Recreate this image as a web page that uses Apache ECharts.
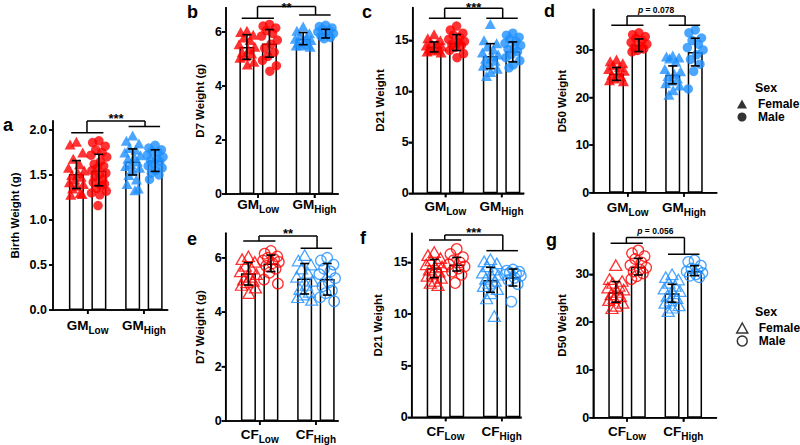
<!DOCTYPE html>
<html><head><meta charset="utf-8">
<script src="https://cdn.jsdelivr.net/npm/echarts@6/dist/echarts.min.js"></script>
<style>html,body{margin:0;padding:0;background:#fff}#c{width:800px;height:445px}</style>
</head><body><div id="c"></div>
<script>
// ================= DATA =================
const topGroup = 'GM';
const bottomGroup = 'CF';
const levels = ['Low', 'High'];
const sexNames = ['Female', 'Male'];
const legendTitle = 'Sex';
const panelLetters = ['a', 'b', 'c', 'd', 'e', 'f', 'g'];
const axisNames = ['Birth Weight (g)', 'D7 Weight (g)', 'D21 Weight', 'D50 Weight', 'D7 Weight (g)', 'D21 Weight', 'D50 Weight'];
const sigLabels = ['***', '**', '***', 'p = 0.078', '**', '***', 'p = 0.056'];

// tick labels
const aTicks = [0, 0.5, 1.0, 1.5, 2.0];
const d7Ticks = [0, 2, 4, 6];
const d21Ticks = [0, 5, 10, 15];
const d50Ticks = [0, 10, 20, 30];

// bar order: [Female Low, Male Low, Female High, Male High]
const aMean = [1.51, 1.55, 1.65, 1.66];
const aLo = [1.35, 1.38, 1.50, 1.54];
const aHi = [1.66, 1.73, 1.79, 1.78];
const aFemLow = [1.87, 1.84, 1.75, 1.68, 1.62, 1.58, 1.55, 1.52, 1.50, 1.48, 1.45, 1.42, 1.40, 1.38, 1.35, 1.30, 1.28, 1.29];
const aMaleLow = [1.88, 1.86, 1.82, 1.78, 1.75, 1.72, 1.70, 1.65, 1.62, 1.60, 1.58, 1.55, 1.52, 1.50, 1.48, 1.45, 1.42, 1.40, 1.38, 1.35, 1.32, 1.30, 1.28, 1.16];
const aFemHigh = [1.94, 1.88, 1.85, 1.80, 1.78, 1.75, 1.72, 1.70, 1.68, 1.65, 1.62, 1.60, 1.58, 1.55, 1.50, 1.45, 1.40, 1.35, 1.33];
const aMaleHigh = [1.83, 1.80, 1.78, 1.76, 1.75, 1.72, 1.70, 1.68, 1.66, 1.65, 1.62, 1.60, 1.58, 1.55, 1.52, 1.50, 1.45];

const bMean = [5.44, 5.57, 5.75, 5.94];
const bLo = [4.99, 5.07, 5.53, 5.78];
const bHi = [5.90, 6.09, 5.98, 6.10];
const bFemLow = [6.05, 6.0, 5.9, 5.8, 5.7, 5.55, 5.45, 5.35, 5.25, 5.2, 5.1, 5.05, 4.9, 4.8];
const bMaleLow = [6.28, 6.22, 6.15, 6.05, 5.95, 5.85, 5.7, 5.55, 5.4, 5.25, 5.1, 4.95, 4.75, 4.55];
const bFemHigh = [6.2, 6.05, 5.95, 5.85, 5.8, 5.75, 5.7, 5.65, 5.6, 5.55, 5.5, 5.5, 5.45];
const bMaleHigh = [6.25, 6.2, 6.15, 6.1, 6.05, 6.0, 5.95, 5.9, 5.85, 5.8, 5.75];

const cMean = [14.35, 14.77, 13.46, 13.92];
const cLo = [13.86, 14.0, 12.22, 12.88];
const cHi = [14.84, 15.56, 14.67, 14.84];
const cFemLow = [15.6, 15.2, 15.0, 14.8, 14.7, 14.5, 14.4, 14.3, 14.2, 14.1, 14.0, 13.9, 13.8];
const cMaleLow = [16.4, 16.0, 15.7, 15.5, 15.3, 15.1, 14.9, 14.8, 14.6, 14.5, 14.3, 14.0, 13.7, 13.3];
const cFemHigh = [16.6, 15.0, 14.7, 14.4, 14.1, 13.8, 13.6, 13.4, 13.2, 13.0, 12.8, 12.5, 12.2, 11.9, 11.5];
const cMaleHigh = [15.7, 15.5, 15.3, 15.1, 14.9, 14.7, 14.5, 14.3, 14.1, 13.9, 13.6, 13.3, 13.0, 12.6, 12.3];

const dMean = [24.97, 31.05, 24.76, 29.58];
const dLo = [23.6, 29.65, 22.87, 26.64];
const dHi = [26.3, 32.3, 26.64, 32.45];
const dFemLow = [28.0, 27.6, 27.2, 26.8, 26.4, 26.0, 25.6, 25.2, 24.8, 24.4, 24.0, 23.6, 23.4];
const dMaleLow = [33.6, 33.2, 32.8, 32.4, 32.0, 31.6, 31.2, 30.8, 30.5, 30.2, 29.9, 29.6];
const dFemHigh = [28.8, 28.6, 28.4, 28.2, 27.5, 26.0, 25.5, 25.0, 24.5, 24.0, 23.5, 23.0, 22.5, 21.5, 20.6];
const dMaleHigh = [34.2, 33.6, 32.5, 32.0, 31.2, 30.5, 30.0, 29.0, 28.0, 27.0, 25.5, 21.8];

const eMean = [5.43, 5.79, 5.24, 5.22];
const eLo = [5.0, 5.49, 4.67, 4.63];
const eHi = [5.82, 6.1, 5.79, 5.79];
const eFemLow = [6.05, 5.95, 5.85, 5.7, 5.6, 5.5, 5.4, 5.3, 5.2, 5.15, 5.1, 5.0, 4.9, 4.7];
const eMaleLow = [6.25, 6.15, 6.05, 6.0, 5.95, 5.9, 5.85, 5.8, 5.7, 5.6, 5.45, 5.2, 5.05];
const eFemHigh = [6.1, 5.9, 5.75, 5.6, 5.45, 5.3, 5.15, 5.0, 4.85, 4.75, 4.65, 4.55, 4.45];
const eMaleHigh = [6.0, 5.9, 5.75, 5.6, 5.5, 5.4, 5.25, 5.1, 4.95, 4.8, 4.7, 4.55, 4.4];

const fMean = [14.42, 14.8, 13.29, 13.55];
const fLo = [13.52, 14.16, 12.1, 12.71];
const fHi = [15.29, 15.48, 14.52, 14.35];
const fFemLow = [16.0, 15.7, 15.4, 15.2, 15.0, 14.8, 14.6, 14.5, 14.3, 14.1, 13.9, 13.7, 13.5, 13.2, 13.0, 12.8];
const fMaleLow = [16.3, 15.8, 15.5, 15.2, 15.0, 14.8, 14.6, 14.4, 14.1, 13.8, 13.0];
const fFemHigh = [15.3, 15.1, 14.9, 14.6, 14.3, 14.0, 13.8, 13.6, 13.4, 13.2, 13.0, 12.7, 12.4, 12.0, 11.5, 9.8];
const fMaleHigh = [14.3, 14.2, 14.1, 14.0, 13.9, 13.8, 13.7, 13.5, 13.3, 12.9, 11.2];

const gMean = [26.25, 31.6, 26.04, 30.69];
const gLo = [24.17, 29.86, 24.17, 29.72];
const gHi = [28.47, 33.33, 27.92, 31.8];
const gFemLow = [31.9, 29.0, 28.6, 28.2, 27.6, 27.2, 26.8, 26.3, 25.8, 25.4, 25.0, 24.6, 24.0, 23.4, 22.9];
const gMaleLow = [35.0, 34.4, 33.8, 33.2, 32.5, 31.9, 31.4, 31.0, 30.6, 30.2, 29.6, 29.0];
const gFemHigh = [30.0, 29.4, 28.9, 28.2, 27.6, 27.0, 26.5, 26.0, 25.5, 25.0, 24.5, 24.0, 23.5, 23.0, 22.3];
const gMaleHigh = [32.9, 32.6, 31.8, 31.2, 30.9, 30.6, 30.3, 30.0, 29.7, 29.4];

// ================= LAYOUT =================
const F = "'Liberation Sans', Arial, Helvetica, sans-serif";
const RED = '#FF0000', BLUE = '#1E90FF';
const PX = 22.5;
const xPos = [0, 1, 2.5, 3.5];
const groupX = [0.5, 3.0];
const J = [0, -0.28, 0.28, -0.14, 0.14, -0.35, 0.35, 0.07, -0.21, 0.21, -0.07, -0.31, 0.31, 0.02, -0.17, 0.17, -0.25, 0.25, 0.1, -0.1, 0.33, -0.33, 0.04, -0.04];

const panels = [
  {mean:aMean, lo:aLo, hi:aHi, pts:[aFemLow,aMaleLow,aFemHigh,aMaleHigh], ticks:aTicks, dec:1, group:topGroup, open:false,
   left:53, zero:310, ppu:90, yMax:2.1, xMin:-1.04, xMax:4.05, gap:32, lm:6, xm:8, br:[1.97,2.1,2.04], L:[3,116]},
  {mean:bMean, lo:bLo, hi:bHi, pts:[bFemLow,bMaleLow,bFemHigh,bMaleHigh], ticks:d7Ticks, dec:0, group:topGroup, open:false,
   left:226, zero:194, ppu:27, yMax:6.9, xMin:-0.93, xMax:4.05, gap:20, lm:4, xm:3, br:[6.51,6.94,6.63], L:[187,3]},
  {mean:cMean, lo:cLo, hi:cHi, pts:[cFemLow,cMaleLow,cFemHigh,cMaleHigh], ticks:d21Ticks, dec:0, group:topGroup, open:false,
   left:412.7, zero:193.3, ppu:10.2, yMax:18.2, xMin:-0.95, xMax:3.98, gap:27, lm:4, xm:6, br:[17.16,18.14,17.16], L:[362,3]},
  {mean:dMean, lo:dLo, hi:dHi, pts:[dFemLow,dMaleLow,dFemHigh,dMaleHigh], ticks:d50Ticks, dec:0, group:topGroup, open:false,
   left:593.3, zero:192.7, ppu:4.76, yMax:38.5, xMin:-1.03, xMax:4.45, gap:25, lm:4, xm:8, br:[35.2,37.1,35.2], L:[544,2]},
  {mean:eMean, lo:eLo, hi:eHi, pts:[eFemLow,eMaleLow,eFemHigh,eMaleHigh], ticks:d7Ticks, dec:0, group:bottomGroup, open:true,
   left:225.7, zero:421, ppu:27.2, yMax:6.9, xMin:-1.01, xMax:3.98, gap:20, lm:4, xm:6, br:[6.62,6.8,6.35], L:[187,230]},
  {mean:fMean, lo:fLo, hi:fHi, pts:[fFemLow,fMaleLow,fFemHigh,fMaleHigh], ticks:d21Ticks, dec:0, group:bottomGroup, open:true,
   left:411.7, zero:417.3, ppu:10.33, yMax:17.8, xMin:-1.0, xMax:3.86, gap:28, lm:4, xm:7, br:[17.16,17.65,16.13], L:[360,229]},
  {mean:gMean, lo:gLo, hi:gHi, pts:[gFemLow,gMaleLow,gFemHigh,gMaleHigh], ticks:d50Ticks, dec:0, group:bottomGroup, open:true,
   left:593.3, zero:417.7, ppu:4.78, yMax:38.6, xMin:-1.0, xMax:4.47, gap:25, lm:4, xm:7, br:[36.5,37.7,34.2], L:[546,231]}
];

const grids = [], xAxes = [], yAxes = [], series = [], titles = [];
const lst = () => ({color:'#000', width:1.5});

function errRender(params, api) {
  const x = api.value(0);
  const a = api.coord([x, api.value(1)]), b = api.coord([x, api.value(2)]);
  const w = 4.5, st = {stroke:'#000', lineWidth:1.6};
  return {type:'group', children:[
    {type:'line', shape:{x1:a[0], y1:a[1], x2:b[0], y2:b[1]}, style:st},
    {type:'line', shape:{x1:a[0]-w, y1:a[1], x2:a[0]+w, y2:a[1]}, style:st},
    {type:'line', shape:{x1:b[0]-w, y1:b[1], x2:b[0]+w, y2:b[1]}, style:st}
  ]};
}

// axis lines and ticks drawn through the grid's own scales
function axisRender(p) {
  return function (params, api) {
    const c = (x, y) => api.coord([x, y]);
    const st = {stroke:'#000', lineWidth:1.5, lineCap:'square'};
    const tk = {stroke:'#000', lineWidth:1.5};
    const o = c(p.xMin, 0), xe = c(p.xMax, 0), yt = c(p.xMin, p.yMax);
    const kids = [
      {type:'line', shape:{x1:o[0], y1:o[1], x2:xe[0], y2:xe[1]}, style:st},
      {type:'line', shape:{x1:o[0], y1:o[1], x2:yt[0], y2:yt[1]}, style:st}
    ];
    p.ticks.forEach(v => { const q = c(p.xMin, v); kids.push({type:'line', shape:{x1:q[0]-4, y1:q[1], x2:q[0], y2:q[1]}, style:tk}); });
    groupX.forEach(g => { const q = c(g, 0); kids.push({type:'line', shape:{x1:q[0], y1:q[1], x2:q[0], y2:q[1]+4}, style:tk}); });
    return {type:'group', children:kids};
  };
}

function bracketRender(br, sig) {
  return function (params, api) {
    const c = (x, y) => api.coord([x, y]);
    const st = {stroke:'#000', lineWidth:1.5};
    const L1 = c(-0.23, br[0]), L2 = c(1.2, br[0]), LC = c(0.47, br[0]), LT = c(0.47, br[1]);
    const RT = c(3.05, br[1]), RC = c(3.05, br[2]), R1 = c(2.32, br[2]), R2 = c(3.72, br[2]);
    const ln = (p, q) => ({type:'line', shape:{x1:p[0], y1:p[1], x2:q[0], y2:q[1]}, style:st});
    const cx = (LT[0] + RT[0]) / 2;
    let txt;
    if (sig.charAt(0) === 'p') {
      txt = {type:'text', style:{text:'{i|p}' + sig.slice(1), x:cx, y:LT[1]-1.5, align:'center', verticalAlign:'bottom',
        fontSize:8.5, fontWeight:'bold', fontFamily:F, fill:'#000',
        rich:{i:{fontStyle:'italic', fontWeight:'bold', fontSize:8.5, fontFamily:F, fill:'#000'}}}};
    } else {
      txt = {type:'text', style:{text:sig, x:cx, y:Math.max(0.5, LT[1]-9), align:'center', verticalAlign:'top',
        fontSize:13, fontWeight:'bold', fontFamily:F, fill:'#000'}};
    }
    return {type:'group', children:[ln(L1, L2), ln(LC, LT), ln(LT, RT), ln(RT, RC), ln(R1, R2), txt]};
  };
}

panels.forEach((p, i) => {
  grids.push({left:p.left, top:p.zero - p.yMax * p.ppu, width:(p.xMax - p.xMin) * PX, height:p.yMax * p.ppu,
    containLabel:false, outerBoundsMode:'none'});
  xAxes.push({gridIndex:i, type:'value', min:p.xMin, max:p.xMax, splitLine:{show:false},
    axisLine:{show:true, onZero:false, lineStyle:lst()},
    axisTick:{show:true, customValues:groupX, length:4, lineStyle:lst()},
    axisLabel:{show:true, customValues:groupX, margin:p.xm, color:'#000',
      formatter: v => '{m|' + p.group + '}{s|' + (v < 1.75 ? levels[0] : levels[1]) + '}',
      rich:{m:{fontSize:13.5, fontWeight:'bold', fontFamily:F, color:'#000', verticalAlign:'bottom', padding:[0,0,3,0]},
            s:{fontSize:10, fontWeight:'bold', fontFamily:F, color:'#000', verticalAlign:'bottom'}}}});
  yAxes.push({gridIndex:i, type:'value', min:0, max:p.yMax, splitLine:{show:false},
    axisLine:{show:true, onZero:false, lineStyle:lst()},
    axisTick:{show:true, customValues:p.ticks, length:4, lineStyle:lst()},
    axisLabel:{show:true, customValues:p.ticks, margin:p.lm, color:'#000', fontSize:12.5, fontWeight:'bold', fontFamily:F,
      formatter: v => Number(v).toFixed(p.dec)},
    name:axisNames[i], nameLocation:'middle', nameGap:p.gap,
    nameTextStyle:{fontSize:11.5, fontWeight:'bold', fontFamily:F, color:'#000'}});
  series.push({type:'bar', xAxisIndex:i, yAxisIndex:i, z:1, barWidth:15, silent:true,
    data:xPos.map((x, k) => [x, p.mean[k]]),
    itemStyle:{color:'#fff', borderColor:'#000', borderWidth:1.5}});
  p.pts.forEach((arr, k) => {
    const col = k < 2 ? RED : BLUE;
    const tri = (k % 2) === 0;
    const style = p.open ? {color:'rgba(255,255,255,0)', borderColor:col, borderWidth:1.3} : {color:col};
    series.push({type:'scatter', xAxisIndex:i, yAxisIndex:i, z:2, silent:true,
      symbol: tri ? 'triangle' : 'circle',
      symbolSize: p.open ? (tri ? [12, 10.5] : 10.5) : (tri ? [11, 10] : 9.5),
      itemStyle:style,
      data: arr.map((v, j) => [xPos[k] + J[j % J.length], v])});
  });
  series.push({type:'custom', xAxisIndex:i, yAxisIndex:i, z:4, silent:true, renderItem:errRender,
    encode:{x:0, y:[1, 2]}, data:xPos.map((x, k) => [x, p.lo[k], p.hi[k]])});
  series.push({type:'custom', xAxisIndex:i, yAxisIndex:i, z:4, silent:true, renderItem:bracketRender(p.br, sigLabels[i]),
    encode:{x:0, y:1}, data:[[0, 0]]});
  series.push({type:'custom', xAxisIndex:i, yAxisIndex:i, z:10, silent:true, clip:false, renderItem:axisRender(p),
    encode:{x:0, y:1}, data:[[p.xMin, 0]]});
  titles.push({text:panelLetters[i], left:p.L[0], top:p.L[1], padding:0,
    textStyle:{fontSize:18, fontWeight:'bold', fontFamily:F, color:'#000'}});
});

series.push({type:'scatter', name:sexNames[0], xAxisIndex:0, yAxisIndex:0, data:[], itemStyle:{color:'#000'}});
series.push({type:'scatter', name:sexNames[1], xAxisIndex:0, yAxisIndex:0, data:[], itemStyle:{color:'#000'}});
series.push({type:'scatter', name:sexNames[0] + ' ', xAxisIndex:0, yAxisIndex:0, data:[], itemStyle:{color:'#fff', borderColor:'#000', borderWidth:1.5}});
series.push({type:'scatter', name:sexNames[1] + ' ', xAxisIndex:0, yAxisIndex:0, data:[], itemStyle:{color:'#fff', borderColor:'#000', borderWidth:1.5}});

titles.push({text:legendTitle, left:755, top:81, padding:0, textStyle:{fontSize:12.5, fontWeight:'bold', fontFamily:F, color:'#000'}});
titles.push({text:legendTitle, left:755, top:305, padding:0, textStyle:{fontSize:12.5, fontWeight:'bold', fontFamily:F, color:'#000'}});

const legTxt = {fontSize:12, lineHeight:12, fontWeight:'bold', fontFamily:F, color:'#000', padding:[0,0,0,6]};
const legends = [
  {orient:'vertical', left:737, top:98, padding:0, itemWidth:10, itemHeight:9, itemGap:1, selectedMode:false,
   data:[{name:sexNames[0], icon:'triangle'}, {name:sexNames[1], icon:'circle'}],
   itemStyle:{color:'#000', borderWidth:0}, textStyle:legTxt},
  {orient:'vertical', left:736, top:322, padding:0, itemWidth:11, itemHeight:10, itemGap:1, selectedMode:false,
   data:[{name:sexNames[0] + ' ', icon:'triangle'}, {name:sexNames[1] + ' ', icon:'circle'}],
   formatter: n => n.trim(),
   itemStyle:{color:'#fff', borderColor:'#000', borderWidth:1.5}, textStyle:legTxt}
];

const chart = echarts.init(document.getElementById('c'), null, {renderer:'svg'});
chart.setOption({animation:false, backgroundColor:'#fff', title:titles, legend:legends,
  grid:grids, xAxis:xAxes, yAxis:yAxes, series:series});
</script></body></html>
